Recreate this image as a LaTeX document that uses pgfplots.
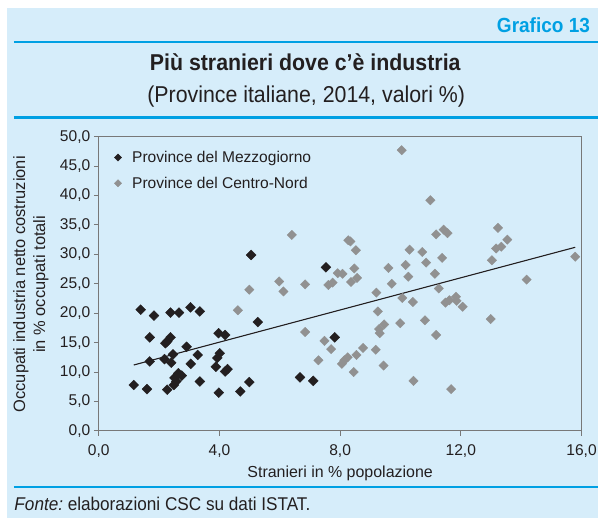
\documentclass[border=0pt]{standalone}
\usepackage{pgfplots}
\pgfplotsset{compat=1.18}
\usepackage{fontspec}
\setmainfont{Liberation Sans}
\newfontfamily\condfont[FakeStretch=0.93]{Liberation Sans}
\definecolor{bgblue}{RGB}{214,237,250}
\definecolor{cyanline}{RGB}{0,160,227}
\definecolor{darkpt}{RGB}{35,31,32}
\definecolor{graypt}{RGB}{145,145,145}
\definecolor{axgray}{RGB}{120,120,120}
\begin{document}
\begin{tikzpicture}[x=1pt,y=1pt]
\fill[white] (0,0) rectangle (600,523);
\fill[bgblue] (7,4) rectangle (600,515);
\node[anchor=east, text=cyanline, font=\condfont\bfseries\fontsize{20.5}{24}\selectfont] at (595,498) {Grafico 13};
\draw[cyanline, line width=2.5] (14,481) -- (600,481);
\node[font=\condfont\bfseries\fontsize{23}{27}\selectfont, text=darkpt] at (306,461) {Più stranieri dove c’è industria};
\node[font=\condfont\fontsize{23}{27}\selectfont, text=darkpt] at (307,426) {(Province italiane, 2014, valori \%)};
\draw[cyanline, line width=2.5] (14,405) -- (600,405);
\draw[cyanline, line width=2.5] (14,35) -- (600,35);
\node[anchor=west, text=darkpt, font=\condfont\fontsize{18.5}{22}\selectfont] at (11,18) {{\itshape Fonte:}\hspace{0.25em}elaborazioni CSC su dati ISTAT.};
\node[rotate=90, text=darkpt, font=\fontsize{16.5}{19}\selectfont] at (21,238) {Occupati industria netto costruzioni};
\node[rotate=90, text=darkpt, font=\fontsize{16.5}{19}\selectfont] at (41,238) {in \% occupati totali};
\begin{axis}[
  at={(99pt,91pt)}, anchor=south west, scale only axis,
  width=484pt, height=295pt,
  xmin=0, xmax=16, ymin=0, ymax=50,
  axis line style={draw=axgray, line width=1pt},
  tick style={draw=axgray, line width=1pt},
  major tick length=5pt, tick align=outside,
  xtick pos=bottom, ytick pos=left,
  xtick={0,4,8,12,16},
  xticklabels={{0,0},{4,0},{8,0},{12,0},{16,0}},
  ytick={0,5,10,15,20,25,30,35,40,45,50},
  yticklabels={{0,0},{5,0},{10,0},{15,0},{20,0},{25,0},{30,0},{35,0},{40,0},{45,0},{50,0}},
  ticklabel style={font=\fontsize{15.6}{18}\selectfont, text=darkpt},
  xticklabel style={yshift=-5pt},
  xlabel={Stranieri in \% popolazione},
  xlabel style={font=\fontsize{16}{19}\selectfont, text=darkpt, at={(axis description cs:0.5,-0.145)}, anchor=center},
  legend style={draw=none, fill=none, at={(axis description cs:0.026,0.965)}, anchor=north west, font=\fontsize{15.6}{18}\selectfont, text=darkpt, row sep=9pt},
  legend cell align=left,
  legend image code/.code={\draw[#1, mark size=2.5pt] plot coordinates {(0.2cm,0cm)}; \path (0.62cm,0cm);},
]
\addplot[only marks, mark=square*, mark size=3.5pt, mark options={rotate=45, fill=darkpt, draw=darkpt}] coordinates {
(1.39,20.6) (1.83,19.6) (2.38,20.1) (2.66,20.1) (3.04,21.0) (3.35,20.3)
(1.69,15.9) (2.27,15.2) (2.38,15.9) (2.21,14.9) (2.91,14.3) (3.97,16.6) (4.19,16.3) (5.27,18.5)
(1.69,11.8) (2.18,12.2) (2.40,11.6) (2.46,13.0) (3.28,12.9) (3.05,11.4) (4.01,13.2) (3.93,12.4) (3.88,10.9) (4.19,10.1) (4.27,10.5)
(2.64,9.8) (2.75,9.4) (2.51,9.0) (2.57,8.4) (2.49,7.8) (1.16,7.8) (1.60,7.1) (2.27,7.0) (3.35,8.4) (3.98,6.5) (4.69,6.7) (4.99,8.3)
(5.05,29.9) (6.67,9.1) (7.11,8.5) (7.82,15.9) (7.53,27.8)
};
\addlegendentry{Province del Mezzogiorno}
\addplot[only marks, mark=square*, mark size=3.3pt, mark options={rotate=45, fill=graypt, draw=graypt}] coordinates {
(10.04,47.7) (10.99,39.2) (6.40,33.3) (8.27,32.4) (8.34,32.2) (8.52,30.7)
(11.18,33.4) (11.43,34.2) (11.56,33.6) (13.23,34.5) (13.54,32.5) (13.34,31.3) (13.17,31.0) (13.03,29.0) (15.79,29.6)
(10.30,30.8) (10.72,30.4) (10.85,28.6) (11.38,29.4) (10.17,28.2) (10.26,26.2) (9.60,27.7) (9.71,25.0) (11.14,26.7) (11.27,24.2)
(8.47,27.6) (7.92,26.8) (8.08,26.7) (8.56,26.0) (8.36,25.3) (7.61,24.8) (7.75,25.2) (6.84,24.9) (5.98,25.4) (6.12,23.7)
(9.20,23.5) (10.06,22.6) (10.41,21.9) (9.25,20.3)
(11.49,21.8) (11.62,22.2) (11.84,22.8) (11.86,22.1) (12.06,21.1)
(14.18,25.7) (12.99,19.0) (10.81,18.8) (9.99,18.3) (9.46,18.1) (9.29,17.3) (9.31,16.6)
(11.18,16.3) (6.84,16.8) (7.48,15.3) (7.70,13.9) (7.28,12.0) (8.76,14.1) (8.54,12.9) (8.25,12.5) (8.14,12.0) (8.06,11.4) (8.45,10.0) (9.18,13.8) (9.44,11.1) (10.43,8.5) (11.68,7.1)
(4.99,24.0) (4.61,20.5)
};
\addlegendentry{Province del Centro-Nord}
\addplot[darkpt, line width=1.1pt, forget plot] coordinates {(1.16,11.2) (15.79,31.2)};
\end{axis}
\end{tikzpicture}
\end{document}
